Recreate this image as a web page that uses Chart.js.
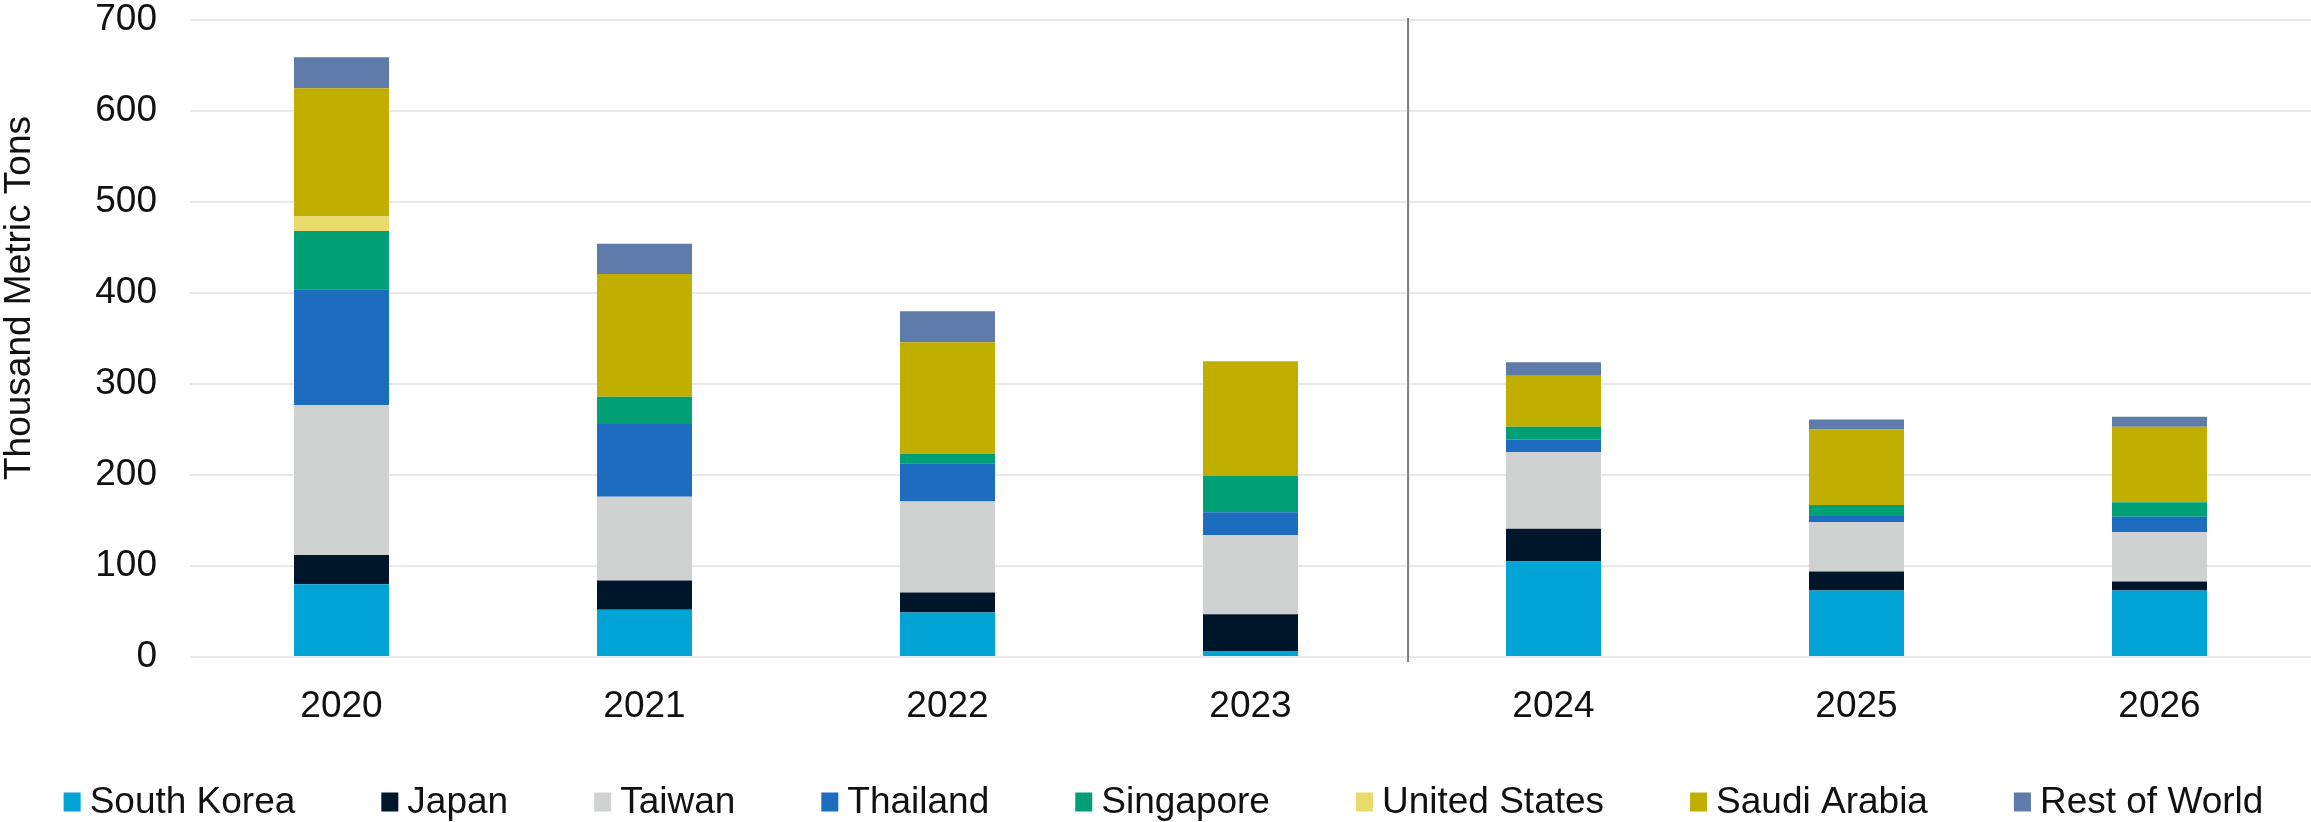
<!DOCTYPE html>
<html>
<head>
<meta charset="utf-8">
<script src="https://cdn.jsdelivr.net/npm/chart.js@4.4.1/dist/chart.umd.min.js"></script>
<style>
  html, body { margin: 0; padding: 0; background: #fff; }
  canvas { display: block; }
</style>
</head>
<body>
<canvas id="imports" width="2311" height="822"></canvas>
<script>
// years, actual through 2023 then forecast
var years = ['2020', '2021', '2022', '2023', '2024', '2025', '2026'];

// thousand metric tons by origin
var southKorea   = [80, 52, 49, 6, 105, 73, 73];
var japan        = [32, 32, 22, 41, 36, 21, 10];
var taiwan       = [165, 92, 100, 87, 84, 54, 54];
var thailand     = [127, 80, 42, 25, 14, 7, 17];
var singapore    = [64, 30, 10, 40, 14, 12, 16];
var unitedStates = [16, 0, 0, 0, 0, 0, 0];
var saudiArabia  = [141, 135, 123, 126, 56, 83, 83];
var restOfWorld  = [34, 33, 34, 0, 15, 11, 11];

var yTicks = [0, 100, 200, 300, 400, 500, 600, 700];

var FONT = '"Liberation Sans", Arial, sans-serif';
var TEXT = '#111111';

var series = [
    { label: 'South Korea', data: southKorea, color: '#02A4D6' },
    { label: 'Japan', data: japan, color: '#00172B' },
    { label: 'Taiwan', data: taiwan, color: '#D0D2D1' },
    { label: 'Thailand', data: thailand, color: '#1C6DC0' },
    { label: 'Singapore', data: singapore, color: '#00A077' },
    { label: 'United States', data: unitedStates, color: '#E9DB6B' },
    { label: 'Saudi Arabia', data: saudiArabia, color: '#C0AF00' },
    { label: 'Rest of World', data: restOfWorld, color: '#5F7BAA' }
];

// rotated y-axis title
var axisTitle = {
    id: 'axisTitle',
    afterDraw: function (chart) {
        var ctx = chart.ctx;
        ctx.save();
        ctx.translate(20, 298);
        ctx.rotate(-Math.PI / 2);
        ctx.font = '37px ' + FONT;
        ctx.fillStyle = TEXT;
        ctx.textAlign = 'center';
        ctx.textBaseline = 'middle';
        ctx.fillText('Thousand Metric Tons', 0, 0);
        ctx.restore();
    }
};

// vertical rule between 2023 and 2024
var divider = {
    id: 'divider',
    afterDatasetsDraw: function (chart) {
        var ctx = chart.ctx;
        var x = chart.scales.x.getPixelForValue(3.52);
        ctx.save();
        ctx.strokeStyle = '#7f7f7f';
        ctx.lineWidth = 2;
        ctx.beginPath();
        ctx.moveTo(x, chart.chartArea.top - 2);
        ctx.lineTo(x, chart.chartArea.bottom + 5);
        ctx.stroke();
        ctx.restore();
    }
};

// legend row along the bottom edge
var bottomLegend = {
    id: 'bottomLegend',
    afterDraw: function (chart) {
        var ctx = chart.ctx;
        var boxW = 17, boxH = 19, gapText = 9, gapItem = 86;
        var yMid = 802;
        ctx.save();
        ctx.font = '37px ' + FONT;
        var items = chart.data.datasets.map(function (ds) {
            return { text: ds.label, color: ds.backgroundColor, w: ctx.measureText(ds.label).width };
        });
        var total = 0;
        items.forEach(function (it, i) {
            total += boxW + gapText + it.w + (i > 0 ? gapItem : 0);
        });
        var x = (chart.width - total) / 2 + 8;
        ctx.textAlign = 'left';
        ctx.textBaseline = 'middle';
        items.forEach(function (it) {
            ctx.fillStyle = it.color;
            ctx.fillRect(x, yMid - boxH / 2, boxW, boxH);
            ctx.fillStyle = TEXT;
            ctx.fillText(it.text, x + boxW + gapText, yMid + 1);
            x += boxW + gapText + it.w + gapItem;
        });
        ctx.restore();
    }
};

var ctx = document.getElementById('imports').getContext('2d');
var chart = new Chart(ctx, {
    type: 'bar',
    data: {
        labels: years,
        datasets: series.map(function (s) {
            return {
                label: s.label,
                data: s.data,
                backgroundColor: s.color,
                borderWidth: 0,
                categoryPercentage: 1,
                barPercentage: 0.3135
            };
        })
    },
    options: {
        responsive: false,
        animation: false,
        devicePixelRatio: 1,
        layout: { padding: { top: 0, right: 0, bottom: 95, left: 0 } },
        plugins: {
            legend: { display: false },
            tooltip: { enabled: false }
        },
        scales: {
            x: {
                stacked: true,
                grid: { display: false, drawTicks: false },
                border: { display: false },
                ticks: {
                    color: TEXT,
                    padding: 29,
                    font: { family: FONT, size: 37, lineHeight: 1.1 }
                },
                afterFit: function (scale) { scale.height = 70; }
            },
            y: {
                stacked: true,
                min: 0,
                max: 700,
                grid: { color: '#e9e9e9', lineWidth: 2, drawTicks: false },
                border: { display: false },
                afterBuildTicks: function (scale) {
                    scale.ticks = yTicks.map(function (v) { return { value: v }; });
                },
                ticks: {
                    color: TEXT,
                    padding: 33,
                    font: { family: FONT, size: 37, lineHeight: 1.1 }
                },
                afterFit: function (scale) {
                    scale.width = 190;
                    // tick padding would otherwise push the plot down
                    scale.paddingTop = 20;
                }
            }
        }
    },
    plugins: [axisTitle, divider, bottomLegend]
});
</script>
</body>
</html>
